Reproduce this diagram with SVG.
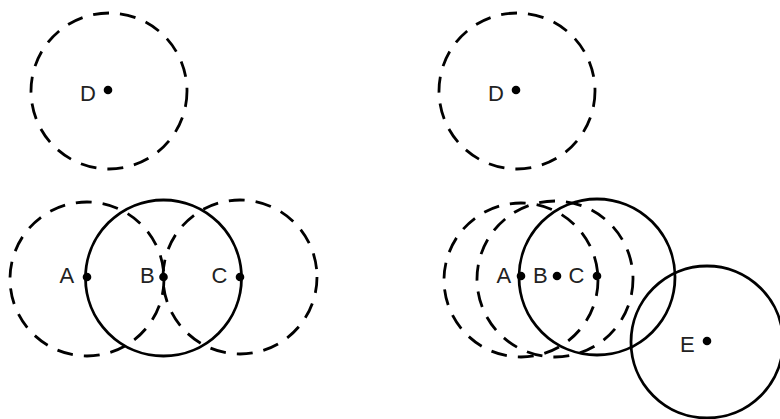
<svg xmlns="http://www.w3.org/2000/svg" width="780" height="419" viewBox="0 0 780 419">
<style>
.dash{fill:none;stroke:#000;stroke-width:2.8;stroke-dasharray:16 11}
.solid{fill:none;stroke:#000;stroke-width:2.8}
.dot{fill:#000}
text{font-family:"Liberation Sans",Arial,sans-serif;font-size:22px;fill:#222}
</style>
<rect width="780" height="419" fill="#fff"/>
<g id="left">
<g id="left-D"><circle class="dash" cx="109" cy="91" r="78"/><circle class="dot" cx="108" cy="90" r="4.3"/><text x="80" y="101">D</text></g>
<g id="left-A"><circle class="dash" cx="87" cy="279" r="77"/><circle class="dot" cx="87" cy="277" r="4.3"/><text x="59.5" y="283">A</text></g>
<g id="left-B"><circle class="solid" cx="163.5" cy="278" r="78"/><circle class="dot" cx="163.5" cy="277" r="4.3"/><text x="140" y="283">B</text></g>
<g id="left-C"><circle class="dash" cx="240" cy="277" r="77"/><circle class="dot" cx="240" cy="277" r="4.3"/><text x="211.5" y="283">C</text></g>
</g>
<g id="right">
<g id="right-D"><circle class="dash" cx="517" cy="91" r="78"/><circle class="dot" cx="516" cy="90" r="4.3"/><text x="488" y="101">D</text></g>
<g id="right-A"><circle class="dash" cx="521" cy="280" r="77"/><circle class="dot" cx="521" cy="276" r="4.3"/><text x="496.5" y="283">A</text></g>
<g id="right-B"><circle class="dash" cx="555" cy="279" r="78"/><circle class="dot" cx="557" cy="276" r="4.3"/><text x="533" y="283">B</text></g>
<g id="right-C"><circle class="solid" cx="597" cy="277" r="78"/><circle class="dot" cx="597" cy="276" r="4.3"/><text x="568.5" y="283">C</text></g>
<g id="right-E"><circle class="solid" cx="707" cy="342" r="76"/><circle class="dot" cx="707" cy="341" r="4.3"/><text x="680" y="352">E</text></g>
</g>
</svg>
